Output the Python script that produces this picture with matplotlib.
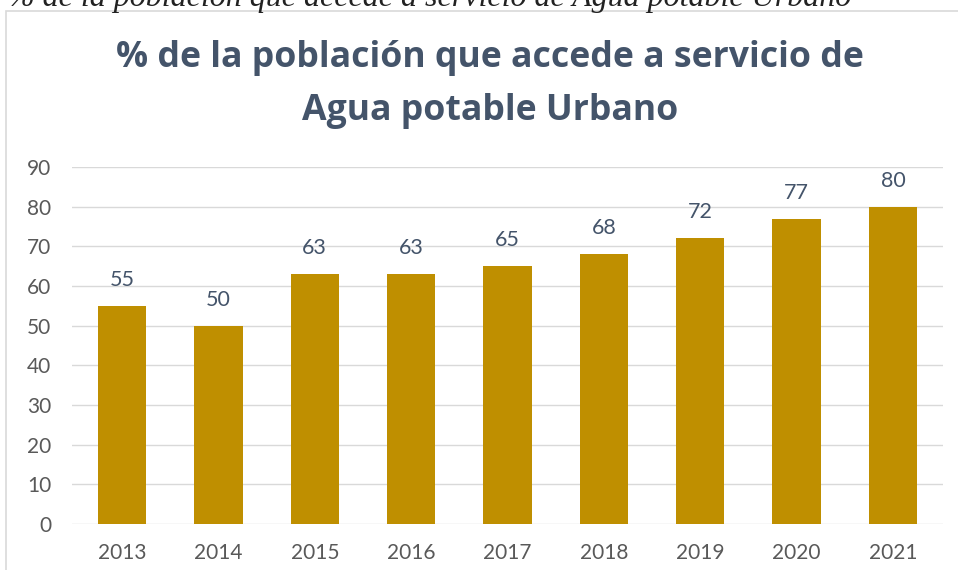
import matplotlib
matplotlib.use("Agg")
import matplotlib.pyplot as plt
from matplotlib.patches import Rectangle

years = ["2013", "2014", "2015", "2016", "2017", "2018", "2019", "2020", "2021"]
values = [55, 50, 63, 63, 65, 68, 72, 77, 80]
y_ticks = [0, 10, 20, 30, 40, 50, 60, 70, 80, 90]

title_lines = ["% de la población que accede a servicio de", "Agua potable Urbano"]
caption = "% de la población que accede a servicio de Agua potable Urbano"

W, H = 958, 570
fig = plt.figure(figsize=(W / 100, H / 100), dpi=100)

BAR = "#BF8F00"
GRID = "#D9D9D9"
TICK = "#595959"
TITLE_C = "#44546A"

# chart frame
fig.patches.append(Rectangle((6 / W, -0.1), 1.2, 1.1 - 11 / H, transform=fig.transFigure,
                             facecolor="white", edgecolor=GRID, linewidth=1.2, zorder=-5))

# caption line partly above the chart frame
fig.text(8 / W, 1 - 6 / H, caption, family="Liberation Serif", style="italic",
         fontsize=23, color="#222222", ha="left", va="baseline")

ax = fig.add_axes([72 / W, 46 / H, (943 - 72) / W, 357 / H])
ax.set_facecolor("none")
x = list(range(len(years)))
ax.bar(x, values, width=0.5, color=BAR, zorder=3)
ax.set_xlim(-0.52, len(years) - 0.48)
ax.set_ylim(0, 90)
ax.set_yticks(y_ticks)
ax.set_xticks(x)
ax.set_xticklabels(years)
ax.grid(axis="y", color=GRID, linewidth=1, zorder=0)
for s in ax.spines.values():
    s.set_visible(False)
ax.tick_params(length=0, labelsize=15, labelcolor=TICK)
ax.tick_params(axis="y", pad=15)
ax.tick_params(axis="x", pad=14)
for lab in ax.get_xticklabels() + ax.get_yticklabels():
    lab.set_family("Lato")

for xi, v in zip(x, values):
    ax.annotate(f"{v}", (xi, v), xytext=(0, 11.5), textcoords="offset points",
                ha="center", va="bottom", fontsize=15.5, color=TITLE_C, family="Lato")

for line, base in zip(title_lines, [67, 120]):
    fig.text(490 / W, 1 - base / H, line, ha="center", va="baseline",
             family="Open Sans", fontweight="bold", fontsize=25.7, color=TITLE_C)

fig.savefig("out.png", dpi=100)
